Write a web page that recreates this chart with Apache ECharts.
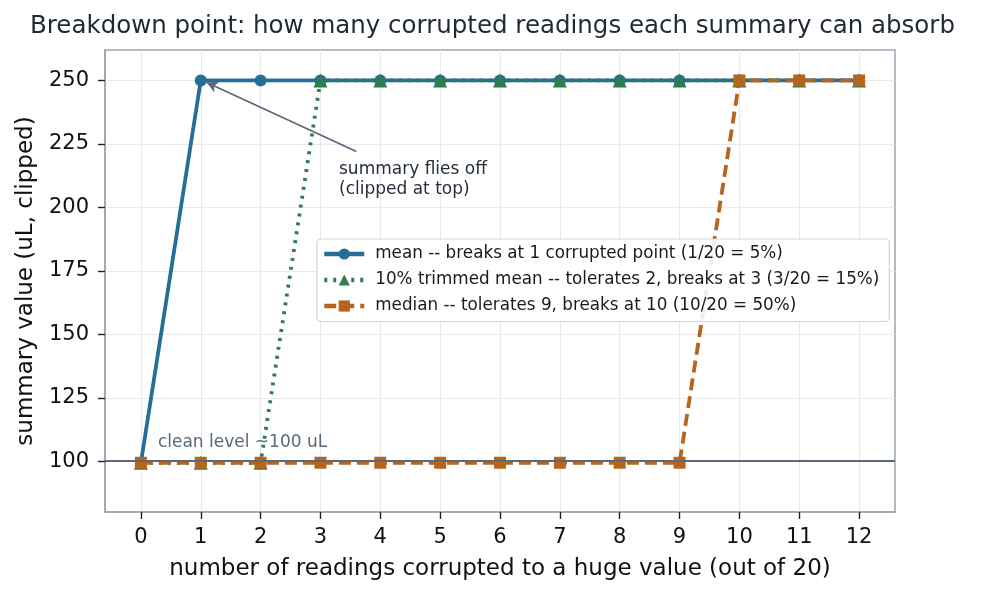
<!DOCTYPE html>
<html>
<head>
<meta charset="utf-8">
<script src="https://cdn.jsdelivr.net/npm/echarts@6/dist/echarts.min.js"></script>
<style>
  html, body { margin: 0; padding: 0; background: #fff; }
  #chart { width: 985px; height: 596px; }
</style>
</head>
<body>
<div id="chart"></div>
<script>
  // number of corrupted readings (x)
  const corrupted = [0, 1, 2, 3, 4, 5, 6, 7, 8, 9, 10, 11, 12]
  // summary values, clipped at 250
  const meanVals = [99.4, 250, 250, 250, 250, 250, 250, 250, 250, 250, 250, 250, 250]
  const trimmedVals = [99.4, 99.4, 99.4, 250, 250, 250, 250, 250, 250, 250, 250, 250, 250]
  const medianVals = [99.4, 99.4, 99.4, 99.4, 99.4, 99.4, 99.4, 99.4, 99.4, 99.4, 250, 250, 250]
  const yTicks = [100, 125, 150, 175, 200, 225, 250]
  const cleanLevel = 100

  const names = [
    'mean -- breaks at 1 corrupted point (1/20 = 5%)',
    '10% trimmed mean -- tolerates 2, breaks at 3 (3/20 = 15%)',
    'median -- tolerates 9, breaks at 10 (10/20 = 50%)',
  ]

  const pairs = (vals) => corrupted.map((x, i) => [x, vals[i]])

  const font = 'DejaVu Sans'
  const chart = echarts.init(document.getElementById('chart'), null, { renderer: 'canvas' })
  chart.setOption({
    animation: false,
    textStyle: { fontFamily: font },
    title: {
      text: 'Breakdown point: how many corrupted readings each summary can absorb',
      left: 'center',
      top: 9,
      textStyle: { fontFamily: font, fontSize: 24.5, fontWeight: 'normal', color: '#1f2a37' },
    },
    grid: {
      left: 105, right: 90, top: 50, bottom: 84,
      show: true, borderColor: '#9aa5b1', borderWidth: 1.5, backgroundColor: 'transparent',
    },
    legend: {
      orient: 'vertical',
      left: 317,
      top: 239,
      z: 10,
      data: names,
      itemWidth: 40,
      itemHeight: 14,
      itemGap: 9,
      padding: [6.5, 10, 7, 5],
      borderColor: '#cfd5dc',
      borderWidth: 1.2,
      borderRadius: 4,
      backgroundColor: 'rgba(255,255,255,0.88)',
      lineStyle: { width: 4.5 },
      textStyle: { fontFamily: font, fontSize: 16.8, color: '#1a1a1a', padding: [0, 0, 0, 6] },
    },
    xAxis: {
      type: 'value',
      min: -0.6,
      max: 12.6,
      name: 'number of readings corrupted to a huge value (out of 20)',
      nameLocation: 'middle',
      nameGap: 46,
      nameTextStyle: { fontFamily: font, fontSize: 23, color: '#111' },
      axisLine: { show: true, onZero: false, lineStyle: { color: '#9aa5b1', width: 1.5 } },
      axisTick: { show: true, customValues: corrupted, length: 7, lineStyle: { color: '#222', width: 1.4 } },
      axisLabel: { customValues: corrupted, fontSize: 21, color: '#111', margin: 15, fontFamily: font },
      splitLine: { show: true, lineStyle: { color: '#e6eaef', width: 1.2 } },
    },
    yAxis: {
      type: 'value',
      min: 80,
      max: 262,
      name: 'summary value (uL, clipped)',
      nameLocation: 'middle',
      nameGap: 64,
      nameTextStyle: { fontFamily: font, fontSize: 23, color: '#111' },
      axisLine: { show: true, onZero: false, lineStyle: { color: '#9aa5b1', width: 1.5 } },
      axisTick: { show: true, customValues: yTicks, length: 7, lineStyle: { color: '#222', width: 1.4 } },
      axisLabel: { customValues: yTicks, fontSize: 21, color: '#111', margin: 16, fontFamily: font },
      splitLine: { show: true, lineStyle: { color: '#e6eaef', width: 1.2 } },
    },
    series: [
      {
        name: 'annotations',
        type: 'line',
        data: [],
        silent: true,
        markLine: {
          silent: true,
          symbol: ['none', 'none'],
          label: { show: false },
          lineStyle: { color: '#5a6878', width: 1.8, type: 'solid' },
          data: [{ yAxis: cleanLevel }],
        },
        markPoint: {
          silent: true,
          symbol: 'circle',
          symbolSize: 0,
          data: [
            {
              coord: [0.2, 107.5],
              label: {
                show: true,
                position: 'right',
                formatter: 'clean level ~100 uL',
                fontFamily: font,
                fontSize: 17,
                color: '#5a6878',
              },
            },
            {
              coord: [3.31, 215.7],
              label: {
                show: true,
                position: 'right',
                align: 'left',
                verticalAlign: 'top',
                offset: [-5, -8],
                formatter: 'summary flies off\n(clipped at top)',
                fontFamily: font,
                fontSize: 17,
                lineHeight: 20,
                color: '#26303c',
              },
            },
          ],
        },
        z: 1,
      },
      {
        name: 'arrow',
        type: 'line',
        data: [],
        silent: true,
        markLine: {
          silent: true,
          symbol: ['none', 'arrow'],
          symbolSize: [9, 11],
          label: { show: false },
          lineStyle: { color: '#5a6878', width: 1.8, type: 'solid' },
          data: [[{ coord: [3.6, 222] }, { coord: [1.1, 249.2] }]],
        },
        z: 5,
      },
      {
        name: names[0],
        type: 'line',
        data: pairs(meanVals),
        symbol: 'circle',
        symbolSize: 12,
        color: '#276e96',
        lineStyle: { width: 3.8, type: 'solid' },
        itemStyle: { color: '#276e96' },
        z: 2,
      },
      {
        name: names[1],
        type: 'line',
        data: pairs(trimmedVals),
        symbol: 'triangle',
        symbolSize: 14,
        color: '#2e7d4f',
        lineStyle: { width: 3.8, type: [3, 6] },
        itemStyle: { color: '#2e7d4f' },
        z: 3,
      },
      {
        name: names[2],
        type: 'line',
        data: pairs(medianVals),
        symbol: 'rect',
        symbolSize: 12,
        color: '#b5651d',
        lineStyle: { width: 3.8, type: [12, 6] },
        itemStyle: { color: '#b5651d' },
        z: 4,
      },
    ],
  })
</script>
</body>
</html>
